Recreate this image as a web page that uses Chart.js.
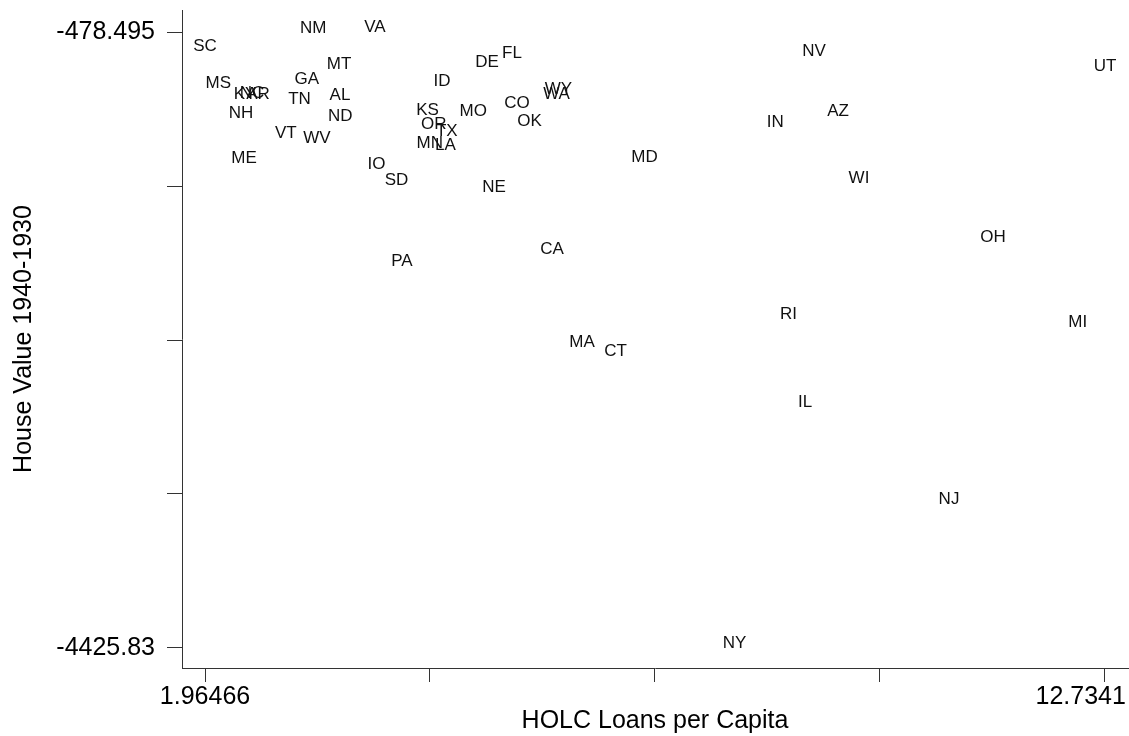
<!DOCTYPE html>
<html>
<head>
<meta charset="utf-8">
<script src="https://cdn.jsdelivr.net/npm/chart.js@4"></script>
<style>
  html, body { margin: 0; padding: 0; background: #fff; }
  #wrap { width: 1129px; height: 736px; }
</style>
</head>
<body>
<div id="wrap"><canvas id="myChart"></canvas></div>
<script>
var states = [
  "SC", "NM", "VA", "MT", "GA", "MS", "KY", "NC", "AR", "TN", "AL", "NH",
  "ND", "VT", "WV", "ME", "IO", "SD", "PA", "FL", "DE", "ID", "WY", "WA",
  "CO", "KS", "MO", "OK", "OR", "TX", "MN", "LA", "MD", "NE", "NV", "UT",
  "AZ", "IN", "WI", "CA", "OH", "RI", "MI", "MA", "CT", "IL", "NJ", "NY",
];
var loans = [
  1.96466, 3.2606, 3.9989, 3.5681, 3.1816, 2.1238, 2.4433, 2.5271, 2.5989, 3.0955, 3.5801, 2.3955,
  3.5837, 2.9315, 3.3049, 2.4313, 4.0168, 4.2562, 4.322, 5.6383, 5.3391, 4.8007, 6.1947, 6.1708,
  5.6981, 4.6272, 5.1752, 5.8477, 4.7013, 4.8581, 4.6547, 4.8425, 7.2238, 5.4229, 9.252, 12.7341,
  9.5392, 8.7889, 9.7905, 6.1169, 11.3939, 8.9469, 12.4075, 6.4759, 6.8768, 9.1443, 10.8675, 8.3007,
];
var houseValue = [
  -597.2, -483.6, -478.495, -714.6, -810.9, -836.5, -905.2, -898.8, -902.0, -939.2, -911.6, -1029.0,
  -1044.4, -1157.3, -1185.6, -1317.8, -1354.3, -1457.0, -1974.8, -644.0, -697.9, -821.8, -873.1, -905.2,
  -964.9, -1007.8, -1014.3, -1078.4, -1099.6, -1142.6, -1221.5, -1232.4, -1307.5, -1500.0, -629.3, -725.5,
  -1014.3, -1082.9, -1442.2, -1899.7, -1822.7, -2316.8, -2366.2, -2496.4, -2554.2, -2881.4, -3503.8, -4425.83,
];
// axis ticks: only the end ticks carry labels
var xTickValues = [1.96466, 4.656895, 7.34913, 10.041365, 12.7341];
var xTickLabels = ["1.96466", "", "", "", "12.7341\u00a0\u00a0\u00a0\u00a0\u00a0\u00a0\u00a0"];
var yTickValues = [-478.495, -1465.32875, -2452.1625, -3438.99625, -4425.83];
var yTickLabels = ["-478.495", "", "", "", "-4425.83"];

var points = loans.map(function (x, i) {
  return { x: x, y: houseValue[i] };
});

var FONT = "'Liberation Sans', Arial, Helvetica, sans-serif";
var AXIS = "#333333";

var stateLabels = {
  id: "stateLabels",
  afterDatasetsDraw: function (chart) {
    var ctx = chart.ctx;
    var meta = chart.getDatasetMeta(0);
    ctx.save();
    ctx.font = "17px " + FONT;
    ctx.fillStyle = "#111";
    ctx.textAlign = "center";
    ctx.textBaseline = "alphabetic";
    meta.data.forEach(function (pt, i) {
      ctx.fillText(states[i], pt.x, pt.y);
    });
    ctx.restore();
  },
};

new Chart("myChart", {
  type: "scatter",
  data: {
    datasets: [
      {
        data: points,
        pointRadius: 0,
        pointHoverRadius: 0,
      },
    ],
  },
  plugins: [stateLabels],
  options: {
    responsive: true,
    maintainAspectRatio: false,
    animation: false,
    devicePixelRatio: 1,
    layout: { padding: { top: 10, right: 1, left: 0, bottom: 0 } },
    plugins: {
      legend: { display: false },
      tooltip: { enabled: false },
    },
    scales: {
      x: {
        type: "linear",
        min: 1.68944,
        max: 13.00932,
        afterBuildTicks: function (scale) {
          scale.ticks = xTickValues.map(function (v) { return { value: v }; });
        },
        afterFit: function (scale) {
          scale.height = 68;
          scale.paddingLeft = 0;
          scale.paddingRight = 0;
        },
        border: { display: true, color: AXIS, width: 1 },
        grid: { drawOnChartArea: false, drawTicks: true, tickLength: 14, tickColor: AXIS },
        ticks: {
          autoSkip: false,
          maxRotation: 0,
          padding: 0,
          color: "#000",
          font: { family: FONT, size: 25 },
          callback: function (value, index) { return xTickLabels[index]; },
        },
        title: {
          display: true,
          text: "HOLC Loans per Capita",
          color: "#000",
          font: { family: FONT, size: 25 },
          padding: { top: 0, bottom: 0 },
        },
      },
      y: {
        type: "linear",
        min: -4556.08,
        max: -334.13,
        afterBuildTicks: function (scale) {
          scale.ticks = yTickValues.map(function (v) { return { value: v }; });
        },
        afterFit: function (scale) {
          scale.width = 182;
          scale.paddingTop = 0;
          scale.paddingBottom = 0;
        },
        border: { display: true, color: AXIS, width: 1 },
        grid: { drawOnChartArea: false, drawTicks: true, tickLength: 15, tickColor: AXIS },
        ticks: {
          autoSkip: false,
          padding: 12,
          color: "#000",
          font: { family: FONT, size: 25 },
          callback: function (value, index) { return yTickLabels[index]; },
        },
        title: {
          display: true,
          text: "House Value 1940-1930",
          color: "#000",
          font: { family: FONT, size: 25 },
          padding: { top: 9, bottom: 0 },
        },
      },
    },
  },
});
</script>
</body>
</html>
